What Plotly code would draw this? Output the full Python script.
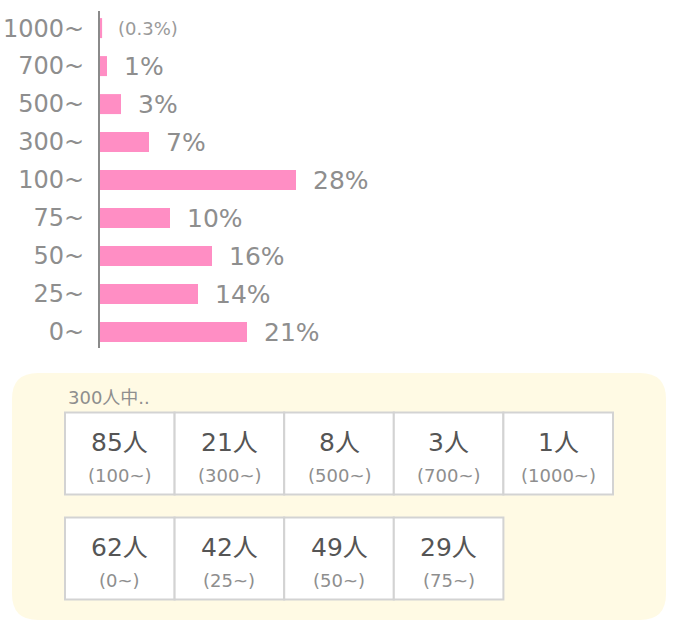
import plotly.graph_objects as go

# ---- data ----
categories = ["0~", "25~", "50~", "75~", "100~", "300~", "500~", "700~", "1000~"]
percents = [21, 14, 16, 10, 28, 7, 3, 1, 0.3]
percent_labels = ["21%", "14%", "16%", "10%", "28%", "7%", "3%", "1%", "(0.3%)"]

total_label = "300人中.."
row1_counts = [85, 21, 8, 3, 1]
row1_ranges = ["100~", "300~", "500~", "700~", "1000~"]
row2_counts = [62, 42, 49, 29]
row2_ranges = ["0~", "25~", "50~", "75~"]

# ---- style ----
W, H = 683, 633
FONT = "DejaVu Sans, Noto Sans CJK JP"
PINK = "#FF8EC4"
GRAY = "#8e8e8e"
LIGHT = "#9a9a9a"
DARK = "#555555"
CREAM = "#FFFAE4"
BORDER = "#d3d3d3"


def X(px):
    return px / W


def Y(py):
    return 1 - py / H


fig = go.Figure()
fig.add_trace(go.Bar(
    x=percents, y=categories, orientation="h",
    marker=dict(color=PINK, line=dict(width=0)),
    width=20 / 38, hoverinfo="skip",
))

annotations = []
for cat, val, lab in zip(categories, percents, percent_labels):
    small = lab.startswith("(")
    annotations.append(dict(
        x=val, y=cat, xref="x", yref="y", text=lab, showarrow=False,
        xanchor="left", yanchor="middle", xshift=14 if small else 15,
        font=dict(family=FONT, size=18 if small else 25,
                  color=LIGHT if small else GRAY),
    ))

shapes = []
# cream rounded box
bx0, by0, bx1, by1, r = 12, 373, 666, 620, 26
path = (f"M {X(bx0 + r)},{Y(by0)} L {X(bx1 - r)},{Y(by0)} "
        f"Q {X(bx1)},{Y(by0)} {X(bx1)},{Y(by0 + r)} "
        f"L {X(bx1)},{Y(by1 - r)} Q {X(bx1)},{Y(by1)} {X(bx1 - r)},{Y(by1)} "
        f"L {X(bx0 + r)},{Y(by1)} Q {X(bx0)},{Y(by1)} {X(bx0)},{Y(by1 - r)} "
        f"L {X(bx0)},{Y(by0 + r)} Q {X(bx0)},{Y(by0)} {X(bx0 + r)},{Y(by0)} Z")
shapes.append(dict(type="path", path=path, xref="paper", yref="paper",
                   fillcolor=CREAM, line=dict(width=0), layer="below"))

annotations.append(dict(
    x=X(66), y=Y(397), xref="paper", yref="paper", text=total_label,
    showarrow=False, xanchor="left", yanchor="middle",
    font=dict(family=FONT, size=18, color=GRAY),
))

cell_w = 109.6
rows = [
    (row1_counts, row1_ranges, 412.5, 494.5),
    (row2_counts, row2_ranges, 517.5, 599.5),
]
x_start = 65
for counts, ranges, top, bot in rows:
    for i, (c, rg) in enumerate(zip(counts, ranges)):
        cx0 = x_start + i * cell_w
        cx1 = cx0 + cell_w
        shapes.append(dict(type="rect", xref="paper", yref="paper",
                           x0=X(cx0), x1=X(cx1), y0=Y(top), y1=Y(bot),
                           fillcolor="white", line=dict(color=BORDER, width=2)))
        cxm = (cx0 + cx1) / 2
        annotations.append(dict(
            x=X(cxm), y=Y(top + 29.5), xref="paper", yref="paper",
            text=f"{c}人", showarrow=False, xanchor="center", yanchor="middle",
            font=dict(family=FONT, size=25, color=DARK),
        ))
        annotations.append(dict(
            x=X(cxm), y=Y(top + 63), xref="paper", yref="paper",
            text=f"({rg})", showarrow=False, xanchor="center", yanchor="middle",
            font=dict(family=FONT, size=18, color=GRAY),
        ))

fig.update_layout(
    width=W, height=H, autosize=False,
    margin=dict(l=0, r=0, t=0, b=0, pad=0, autoexpand=False),
    paper_bgcolor="white", plot_bgcolor="white",
    showlegend=False,
    xaxis=dict(domain=[X(100), X(380)], range=[0, 40], visible=False,
               fixedrange=True, automargin=False),
    yaxis=dict(domain=[Y(348), Y(11)], range=[-0.42, 8.45], type="category",
               categoryorder="array", categoryarray=categories,
               showline=True, linewidth=2, linecolor="#8a8a8a",
               showgrid=False, zeroline=False, ticks="",
               ticklabelstandoff=9, automargin=False,
               tickfont=dict(family=FONT, size=24, color=GRAY),
               fixedrange=True),
    shapes=shapes,
    annotations=annotations,
)

fig.write_html("out.html")
